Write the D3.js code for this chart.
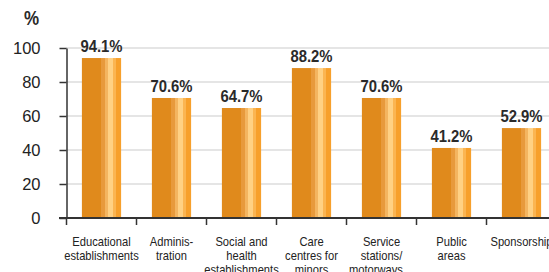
<!DOCTYPE html>
<html>
<meta charset="utf-8">
<head>
<style>
  body { margin: 0; background: #fff; }
  .grid line { stroke: #dcdcdc; stroke-width: 1.5; }
  .cat text { font-family: "Liberation Sans", Arial, sans-serif; font-size: 13px; fill: #222; }
  .val { font-family: "Liberation Sans", Arial, sans-serif; font-size: 16.5px; font-weight: bold; fill: #2a2a2a; }
</style>
</head>
<script src="https://d3js.org/d3.v7.min.js"></script>
<body>
<svg id="chart" width="549" height="272"></svg>
<script>
// data
var categories = ["Educational establishments", "Adminis-tration", "Social and health establishments",
  "Care centres for minors", "Service stations/ motorways\u2026", "Public areas", "Sponsorship"];
var labelLines = [["Educational", "establishments"], ["Adminis-", "tration"], ["Social and", "health", "establishments"],
  ["Care", "centres for", "minors"], ["Service", "stations/", "motorways\u2026"], ["Public", "areas"], ["Sponsorship"]];
var values = [94.1, 70.6, 64.7, 88.2, 70.6, 41.2, 52.9];
var yTicks = [0, 20, 40, 60, 80, 100];

var svg = d3.select("#chart"),
  width = +svg.attr("width");

var x = d3.scaleBand()
  .domain(categories)
  .range([66.5, 556.5])
  .paddingInner(0.44)
  .paddingOuter(0.22);

var y = d3.scaleLinear()
  .domain([0, 100])
  .range([218, 48]);

// bar gradient
var grad = svg.append("defs").append("linearGradient")
  .attr("id", "barGrad").attr("x1", "0%").attr("x2", "100%").attr("y1", "0%").attr("y2", "0%");
var stops = [[0, "#e08a1c"], [0.5, "#e08a1c"], [0.5, "#e89a3c"], [0.58, "#e89a3c"], [0.58, "#f4b560"],
  [0.66, "#f4b560"], [0.66, "#ffd184"], [0.8, "#ffd184"], [0.8, "#fbb552"], [0.88, "#fbb552"],
  [0.88, "#f7a02c"], [1, "#f7a02c"]];
stops.forEach(function(s) {
  grad.append("stop").attr("offset", s[0]).attr("stop-color", s[1]);
});

// gridlines
svg.append("g").attr("class", "grid")
  .selectAll("line").data(yTicks.filter(function(d) { return d > 0; }))
  .enter().append("line")
  .attr("x1", 66).attr("x2", width)
  .attr("y1", function(d) { return y(d); })
  .attr("y2", function(d) { return y(d); });

// y axis
var yAxis = svg.append("g")
  .attr("transform", "translate(66.5,0)")
  .call(d3.axisLeft(y).tickValues(yTicks).tickSize(7).tickPadding(19).tickSizeOuter(0));
yAxis.select(".domain").attr("stroke", "#333").attr("stroke-width", 1.5);
yAxis.selectAll(".tick line").attr("stroke", "#333").attr("stroke-width", 1.5);
yAxis.selectAll(".tick text")
  .style("font-family", "'Liberation Sans', Arial, sans-serif").style("font-size", "16.5px").style("fill", "#222");

svg.append("text")
  .attr("transform", "translate(24,25) scale(0.85,1)")
  .style("font-family", "'Liberation Sans', Arial, sans-serif")
  .style("font-size", "20px").style("font-weight", "bold").style("fill", "#2a2a2a")
  .text("%");

// bars
svg.append("g").selectAll("rect")
  .data(values).enter().append("rect")
  .attr("x", function(d, i) { return x(categories[i]); })
  .attr("width", x.bandwidth())
  .attr("y", function(d) { return y(d); })
  .attr("height", function(d) { return y(0) - y(d); })
  .attr("fill", "url(#barGrad)");

// value labels (narrowed to mimic the condensed face)
svg.append("g").selectAll("text")
  .data(values).enter().append("text")
  .attr("class", "val")
  .attr("text-anchor", "middle")
  .attr("transform", function(d, i) {
    return "translate(" + (x(categories[i]) + x.bandwidth() / 2) + "," + (y(d) - 6) + ") scale(0.9,1)";
  })
  .text(function(d) { return d.toFixed(1) + "%"; });

// x axis line and ticks at band edges
var step = x.step(), half = step * x.paddingInner() / 2;
svg.append("line")
  .attr("x1", 59).attr("x2", width).attr("y1", 218).attr("y2", 218)
  .attr("stroke", "#333").attr("stroke-width", 2);
svg.append("g").selectAll("line")
  .data(categories).enter().append("line")
  .attr("x1", function(d) { return x(d) - half; })
  .attr("x2", function(d) { return x(d) - half; })
  .attr("y1", 218).attr("y2", 225)
  .attr("stroke", "#333").attr("stroke-width", 1.5);

// category labels
var cat = svg.append("g").attr("class", "cat");
categories.forEach(function(c, i) {
  var t = cat.append("text")
    .attr("text-anchor", "middle")
    .attr("transform", "translate(" + (x(c) + x.bandwidth() / 2) + ",246) scale(0.86,1)");
  labelLines[i].forEach(function(line, j) {
    t.append("tspan")
      .attr("x", 0)
      .attr("dy", j === 0 ? 0 : 14)
      .text(line);
  });
});
</script>
</body>
</html>
